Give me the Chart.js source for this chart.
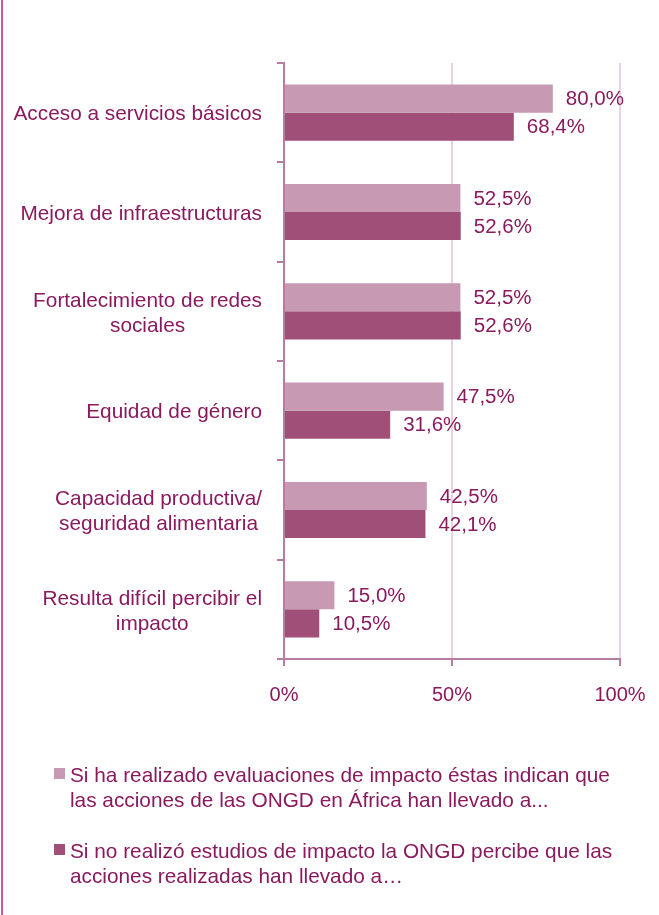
<!DOCTYPE html>
<html>
<head>
<meta charset="utf-8">
<script src="https://cdn.jsdelivr.net/npm/chart.js@4.4.1/dist/chart.umd.min.js"></script>
<style>
  html, body { margin: 0; padding: 0; background: #ffffff; }
  #wrap { position: relative; width: 659px; height: 915px; }
</style>
</head>
<body>
<div id="wrap"><canvas id="chart" width="659" height="915"></canvas></div>
<script>
// Categories (one array of lines per label)
const categories = [
  ["Acceso a servicios básicos"],
  ["Mejora de infraestructuras"],
  ["Fortalecimiento de redes", "sociales"],
  ["Equidad de género"],
  ["Capacidad productiva/", "seguridad alimentaria"],
  ["Resulta difícil percibir el", "impacto"]
];

// Percent of ONGD per series
const evaluatedValues = [80.0, 52.5, 52.5, 47.5, 42.5, 15.0];
const perceivedValues = [68.4, 52.6, 52.6, 31.6, 42.1, 10.5];

// Series names, split into the lines shown in the legend
const evaluatedName = ["Si ha realizado evaluaciones de impacto éstas indican que",
                       "las acciones de las ONGD en África han llevado a..."];
const perceivedName = ["Si no realizó estudios de impacto la ONGD percibe que las",
                       "acciones realizadas han llevado a…"];

// Value axis ticks
const xTickValues = [0, 50, 100];

const FONT = "'Liberation Sans', Arial, Helvetica, sans-serif";
const TEXT = "#8a1a5e";
const AXIS = "#b97ca1";
const GRID = "#ead3e1";
const LIGHT = "#c799b3";
const DARK = "#a04f78";

const fmt = v => v.toFixed(1).replace(".", ",") + "%";

// Category labels, value labels, legend and page frame
const decorations = {
  id: "decorations",
  afterDraw(chart, args, opts) {
    const ctx = chart.ctx;
    const area = chart.chartArea;
    const yScale = chart.scales.y;
    ctx.save();

    // page frame line on the left edge
    ctx.strokeStyle = "#c9589f";
    ctx.lineWidth = 2;
    ctx.beginPath();
    ctx.moveTo(2, 0);
    ctx.lineTo(2, chart.height);
    ctx.stroke();

    ctx.fillStyle = TEXT;
    ctx.textAlign = "left";
    ctx.textBaseline = "middle";

    // category labels: right-aligned block, lines centred within it
    ctx.font = opts.labelSize + "px " + FONT;
    const right = area.left - opts.labelGap;
    categories.forEach((lines, i) => {
      const cy = yScale.getPixelForValue(i) + 2;
      const widths = lines.map(l => ctx.measureText(l).width);
      const block = Math.max(...widths);
      const left = right - block;
      lines.forEach((line, j) => {
        const y = cy + (j - (lines.length - 1) / 2) * opts.lineHeight;
        ctx.fillText(line, left + (block - widths[j]) / 2, y);
      });
    });

    // value labels at the end of each bar
    ctx.font = opts.valueSize + "px " + FONT;
    chart.data.datasets.forEach((ds, di) => {
      const meta = chart.getDatasetMeta(di);
      meta.data.forEach((el, i) => {
        ctx.fillText(fmt(ds.data[i]), el.x + opts.valueGap, el.y + 1);
      });
    });

    // legend
    ctx.font = opts.labelSize + "px " + FONT;
    ctx.textBaseline = "alphabetic";
    const legend = [[LIGHT, evaluatedName], [DARK, perceivedName]];
    legend.forEach(([color, lines], k) => {
      const base = opts.legendBase + k * opts.legendStep;
      ctx.fillStyle = color;
      ctx.fillRect(opts.legendX, base - 14, 11, 11);
      ctx.fillStyle = TEXT;
      lines.forEach((line, j) => {
        ctx.fillText(line, opts.legendX + 16, base + j * opts.lineHeight);
      });
    });

    ctx.restore();
  }
};

new Chart(document.getElementById("chart"), {
  type: "bar",
  data: {
    labels: categories,
    datasets: [
      { label: evaluatedName.join(" "), data: evaluatedValues, backgroundColor: LIGHT,
        categoryPercentage: 0.565, barPercentage: 1.0 },
      { label: perceivedName.join(" "), data: perceivedValues, backgroundColor: DARK,
        categoryPercentage: 0.565, barPercentage: 1.0 }
    ]
  },
  options: {
    indexAxis: "y",
    responsive: false,
    animation: false,
    devicePixelRatio: 1,
    layout: { padding: { left: 277, top: 63, right: 39, bottom: 210 } },
    plugins: {
      legend: { display: false },
      tooltip: { enabled: false },
      decorations: {
        labelSize: 20.8, valueSize: 20.5, lineHeight: 25, labelGap: 22, valueGap: 13,
        legendX: 54, legendBase: 782, legendStep: 76
      }
    },
    scales: {
      x: {
        min: 0, max: 100,
        afterBuildTicks: s => { s.ticks = xTickValues.map(v => ({ value: v })); },
        afterFit: s => { s.height = 46; s.paddingLeft = 0; s.paddingRight = 0; },
        grid: { color: GRID, lineWidth: 2, tickColor: AXIS, tickLength: 7 },
        border: { color: AXIS, width: 2 },
        ticks: {
          color: TEXT, padding: 17,
          font: { family: FONT, size: 20 },
          callback: v => v + "%"
        }
      },
      y: {
        afterFit: s => { s.width = 7; s.paddingTop = 0; s.paddingBottom = 0; },
        grid: { drawOnChartArea: false, color: AXIS, tickColor: AXIS, tickLength: 7, lineWidth: 2 },
        border: { color: AXIS, width: 2 },
        ticks: { display: false }
      }
    }
  },
  plugins: [decorations]
});
</script>
</body>
</html>
